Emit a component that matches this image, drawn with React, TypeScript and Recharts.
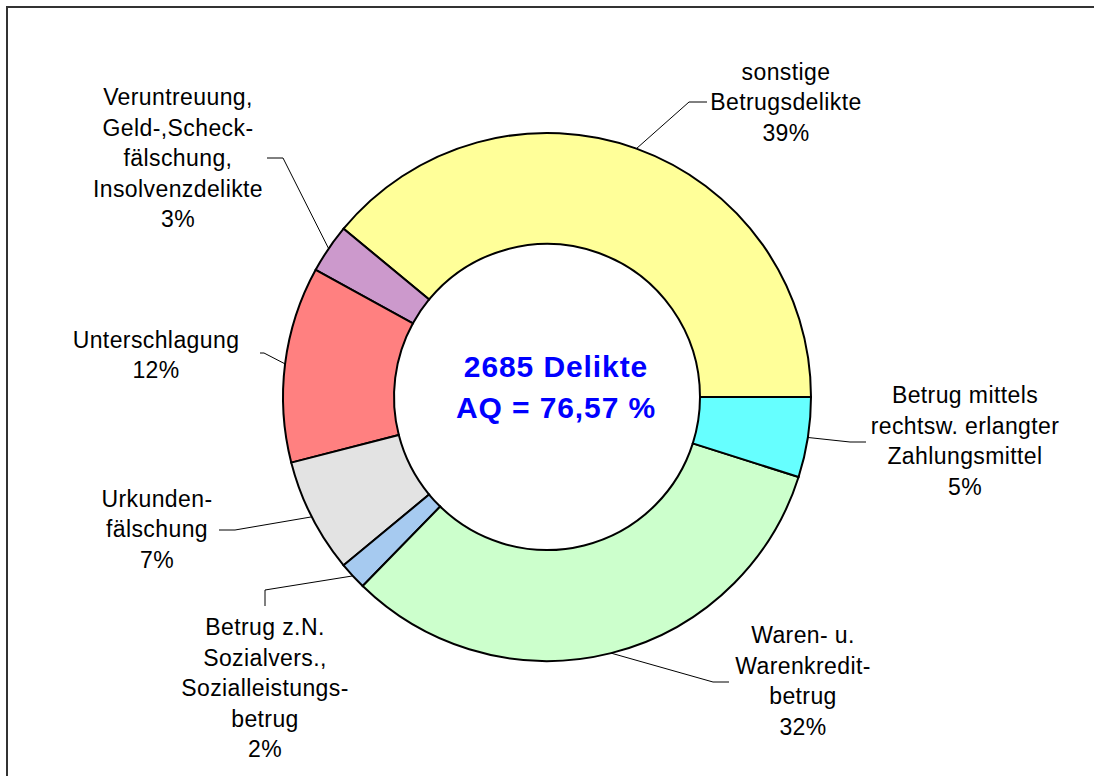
import React from "react";
import { PieChart, Pie, Cell } from "recharts";

// ---- data ----
const categories = [
  "sonstige Betrugsdelikte",
  "Veruntreuung, Geld-,Scheckfälschung, Insolvenzdelikte",
  "Unterschlagung",
  "Urkundenfälschung",
  "Betrug z.N. Sozialvers., Sozialleistungsbetrug",
  "Waren- u. Warenkreditbetrug",
  "Betrug mittels rechtsw. erlangter Zahlungsmittel",
];
const values = [39, 3, 12, 7, 1.7, 32.4, 4.9];
const labelLines = [
  ["sonstige", "Betrugsdelikte"],
  ["Veruntreuung,", "Geld-,Scheck-", "fälschung,", "Insolvenzdelikte"],
  ["Unterschlagung"],
  ["Urkunden-", "fälschung"],
  ["Betrug z.N.", "Sozialvers.,", "Sozialleistungs-", "betrug"],
  ["Waren- u.", "Warenkredit-", "betrug"],
  ["Betrug mittels", "rechtsw. erlangter", "Zahlungsmittel"],
];
const centerLines = ["2685 Delikte", "AQ = 76,57 %"];

// ---- style ----
const colors = ["#FFFF99", "#CC99CC", "#FF8080", "#E3E3E3", "#A6CAF0", "#CCFFCC", "#66FFFF"];
// label layout relative to pie center: text block center, leader elbow, leader end
const labelLayout = [
  { t: [239, -295], e: [142, -295], f: [160, -295] },
  { t: [-369, -239], e: [-264, -239], f: [-280, -239] },
  { t: [-391, -42], e: [-283, -44], f: [-287, -44] },
  { t: [-390, 132], e: [-312, 133], f: [-328, 133] },
  { t: [-282, 291], e: [-282, 193], f: [-282, 209] },
  { t: [256, 284], e: [166, 285], f: [182, 285] },
  { t: [418, 44], e: [303, 45], f: [319, 45] },
];

const data = categories.map((name, i) => ({ name, value: values[i] }));
const FONT = "'Liberation Sans', Arial, sans-serif";
const RAD = Math.PI / 180;
const LINE_H = 30.5;

const renderLabel = (props: any) => {
  const { cx, cy, midAngle, outerRadius, index, percent } = props;
  const lay = labelLayout[index];
  const ax = cx + outerRadius * Math.cos(-midAngle * RAD);
  const ay = cy + outerRadius * Math.sin(-midAngle * RAD);
  const lines = [...labelLines[index], `${Math.round(percent * 100)}%`];
  const tx = cx + lay.t[0];
  const ty = cy + lay.t[1];
  const n = lines.length;
  return (
    <g key={`lbl-${index}`}>
      <polyline
        points={`${ax},${ay} ${cx + lay.e[0]},${cy + lay.e[1]} ${cx + lay.f[0]},${cy + lay.f[1]}`}
        fill="none"
        stroke="#000"
        strokeWidth={1}
      />
      <text
        x={tx}
        textAnchor="middle"
        fontFamily={FONT}
        fontSize={23}
        letterSpacing={0.4}
        fill="#000"
      >
        {lines.map((l, i) => (
          <tspan key={i} x={tx} y={ty + (i - (n - 1) / 2) * LINE_H} dy="0.35em">
            {l}
          </tspan>
        ))}
      </text>
      {index === 0 && (
        <text
          x={cx + 9}
          textAnchor="middle"
          fontFamily={FONT}
          fontSize={30}
          fontWeight="bold"
          letterSpacing={0.9}
          fill="#0000FF"
        >
          {centerLines.map((l, i) => (
            <tspan key={i} x={cx + 9} y={cy - 31 + i * 41} dy="0.35em">
              {l}
            </tspan>
          ))}
        </text>
      )}
    </g>
  );
};

export default function App() {
  return (
    <div
      style={{
        position: "absolute",
        left: 0,
        top: 0,
        width: 1094,
        height: 776,
        overflow: "hidden",
        background: "#fff",
      }}
    >
      <div style={{ position: "absolute", left: 6, top: 6, width: 1088, height: 2, background: "#333" }} />
      <div style={{ position: "absolute", left: 6, top: 6, width: 2, height: 770, background: "#333" }} />
      <div style={{ position: "absolute", left: 0, top: 0 }}>
        <PieChart width={1094} height={776} margin={{ top: 0, right: 0, bottom: 0, left: 0 }}>
          <Pie
            data={data}
            dataKey="value"
            nameKey="name"
            cx={547}
            cy={397}
            innerRadius={153}
            outerRadius={264}
            startAngle={0}
            endAngle={360}
            stroke="#000"
            strokeWidth={2}
            label={renderLabel}
            labelLine={false}
            isAnimationActive={false}
          >
            {data.map((d, i) => (
              <Cell key={d.name} fill={colors[i]} stroke="#000" strokeWidth={2} />
            ))}
          </Pie>
        </PieChart>
      </div>
    </div>
  );
}
